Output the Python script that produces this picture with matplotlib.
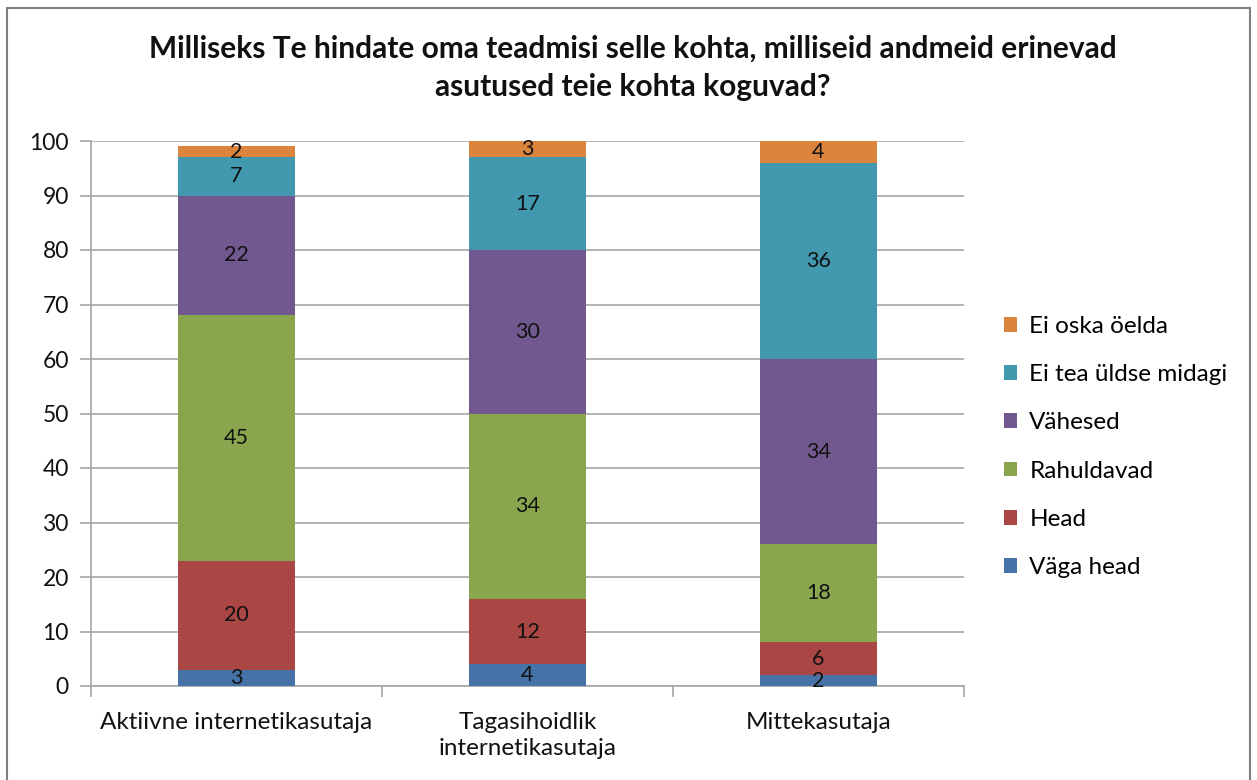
import matplotlib.pyplot as plt
from matplotlib.patches import Rectangle
import numpy as np

plt.rcParams['font.family'] = ['Lato', 'DejaVu Sans']

categories = ["Aktiivne internetikasutaja", "Tagasihoidlik\ninternetikasutaja", "Mittekasutaja"]
series_names = ["Väga head", "Head", "Rahuldavad", "Vähesed", "Ei tea üldse midagi", "Ei oska öelda"]
vaga_head = [3, 4, 2]
head = [20, 12, 6]
rahuldavad = [45, 34, 18]
vahesed = [22, 30, 34]
ei_tea = [7, 17, 36]
ei_oska = [2, 3, 4]
all_values = [vaga_head, head, rahuldavad, vahesed, ei_tea, ei_oska]
colors = ["#4572A7", "#AA4643", "#89A54E", "#71588F", "#4198AF", "#DB843D"]

W, H = 1257, 780
fig = plt.figure(figsize=(W / 100, H / 100), dpi=100)
ax = fig.add_axes([91 / W, 1 - 686 / H, 873 / W, 545 / H])

x = np.arange(len(categories))
bottom = np.zeros(len(categories))
handles = []
for vals, name, color in zip(all_values, series_names, colors):
    bars = ax.bar(x, vals, width=0.4, bottom=bottom, color=color, label=name, zorder=3)
    handles.append(bars)
    for xi, b, v in zip(x, bottom, vals):
        ax.text(xi, b + v / 2, str(v), ha="center", va="center", fontsize=15.5, color="#111111", zorder=4)
    bottom = bottom + np.array(vals)

ax.set_xlim(-0.5, len(categories) - 0.5)
ax.set_ylim(0, 100)
ax.set_yticks(range(0, 101, 10))
ax.yaxis.grid(True, color="#A6A6A6", linewidth=1.2, zorder=0)
ax.set_axisbelow(True)
for side in ["top", "right"]:
    ax.spines[side].set_visible(False)
for side in ["left", "bottom"]:
    ax.spines[side].set_color("#A6A6A6")
    ax.spines[side].set_linewidth(1.2)
ax.tick_params(axis="y", length=8, color="#A6A6A6", width=1.2, labelsize=16.5, pad=8, labelcolor="#111111")
ax.set_xticks(x)
ax.set_xticklabels(categories, fontsize=17.5, color="#111111", linespacing=1.25)
ax.tick_params(axis="x", length=0, pad=19)
ax.set_xticks(np.arange(-0.5, len(categories), 1.0), minor=True)
ax.tick_params(axis="x", which="minor", length=8, color="#A6A6A6", width=1.2)

leg = fig.legend(handles[::-1], series_names[::-1], loc="center left",
                 bbox_to_anchor=(982 / W, 1 - 447 / H), frameon=False, fontsize=17.5,
                 handlelength=0.55, handleheight=0.55, handletextpad=0.5, labelspacing=1.12)

fig.text(633 / W, 1 - 68 / H, "Milliseks Te hindate oma teadmisi selle kohta, milliseid andmeid erinevad\nasutused teie kohta koguvad?",
         ha="center", va="center", fontsize=21.5, fontweight="bold", linespacing=1.45, color="#111111")

fig.patches.append(Rectangle((7 / W, -0.05), (1250 - 7) / W, 1.05 - 8 / H, transform=fig.transFigure,
                             fill=False, edgecolor="#7F7F7F", linewidth=1.5))

fig.savefig("out.png", dpi=100)
